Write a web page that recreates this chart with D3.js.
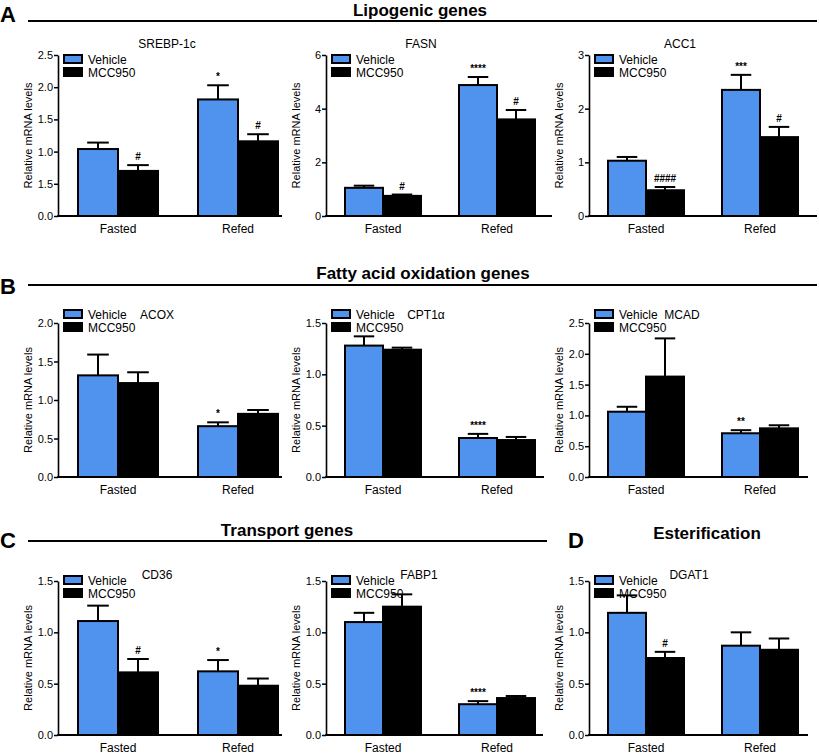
<!DOCTYPE html>
<html><head><meta charset="utf-8">
<script src="https://cdn.jsdelivr.net/npm/d3@7"></script>
<style>
body{margin:0;background:#fff;}
text{font-family:"Liberation Sans",Arial,Helvetica,sans-serif;fill:#000;}
</style></head>
<body><svg id="chart" width="819" height="756"></svg>
<script>
// ---------------- data ----------------
const categories = ["Fasted", "Refed"];
const groups = ["Vehicle", "MCC950"];
const genes = ["SREBP-1c", "FASN", "ACC1", "ACOX", "CPT1\u03b1", "MCAD", "CD36", "FABP1", "DGAT1"];
const vehicleMean = [[1.04, 1.81], [1.05, 4.88], [1.03, 2.35], [1.32, 0.66], [1.28, 0.38], [1.06, 0.71], [1.11, 0.62], [1.10, 0.30], [1.19, 0.87]];
const vehicleSem  = [[0.10, 0.22], [0.08, 0.30], [0.07, 0.28], [0.27, 0.05], [0.09, 0.04], [0.08, 0.05], [0.15, 0.11], [0.09, 0.03], [0.17, 0.13]];
const mccMean     = [[0.70, 1.16], [0.75, 3.60], [0.48, 1.47], [1.22, 0.82], [1.24, 0.36], [1.63, 0.79], [0.61, 0.48], [1.25, 0.36], [0.75, 0.83]];
const mccSem      = [[0.09, 0.11], [0.05, 0.35], [0.06, 0.19], [0.14, 0.05], [0.02, 0.03], [0.62, 0.05], [0.13, 0.07], [0.12, 0.02], [0.06, 0.11]];
const vehicleSig  = [["", "*"], ["", "****"], ["", "***"], ["", "*"], ["", "****"], ["", "**"], ["", "*"], ["", "****"], ["", ""]];
const mccSig      = [["#", "#"], ["#", "#"], ["####", "#"], ["", ""], ["", ""], ["", ""], ["#", ""], ["", ""], ["#", ""]];
const yTickValues = [
  [0, 0.5, 1, 1.5, 2, 2.5], [0, 2, 4, 6], [0, 1, 2, 3],
  [0, 0.5, 1, 1.5, 2], [0, 0.5, 1, 1.5], [0, 0.5, 1, 1.5, 2, 2.5],
  [0, 0.5, 1, 1.5], [0, 0.5, 1, 1.5], [0, 0.5, 1, 1.5]];
const yTickLabels = [
  ["0.0", "1.5", "1.0", "1.5", "2.0", "2.5"], ["0", "2", "4", "6"], ["0", "1", "2", "3"],
  ["0.0", "0.5", "1.0", "1.5", "2.0"], ["0.0", "0.5", "1.0", "1.5"], ["0.0", "0.5", "1.0", "1.5", "2.0", "2.5"],
  ["0.0", "0.5", "1.0", "1.5"], ["0.0", "0.5", "1.0", "1.5"], ["0.0", "0.5", "1.0", "1.5"]];
const sectionLetters = ["A", "B", "C", "D"];
const sectionTitles = ["Lipogenic genes", "Fatty acid oxidation genes", "Transport genes", "Esterification"];
const yAxisTitle = "Relative mRNA levels";

// ---------------- layout ----------------
const BLUE = "#4f93ee";
const colX0 = [58, 326, 589];
const axisEnd = [[282, 552, 817], [282, 544, 808], [282, 543, 808]];
const rowTop = [55, 323, 581];
const rowBottom = [216, 477, 735];
const legendDy = [0, -13, -5];
const titleDy = [-7, -4, -2];
const titleDx = [109, 95, 91, 99, 100, 93, 99, 93, 100];
const sections = [
  {letterX: 0, letterY: 22, lineY: 21, lineX0: 28, lineX1: 817, titleX: 420, titleY: 16},
  {letterX: 0, letterY: 294, lineY: 285, lineX0: 28, lineX1: 817, titleX: 423, titleY: 279},
  {letterX: 0, letterY: 548, lineY: 541, lineX0: 28, lineX1: 547, titleX: 287, titleY: 536},
  {letterX: 568, letterY: 548, lineY: null, titleX: 707, titleY: 539}
];

const svg = d3.select("#chart");

// section headers
sections.forEach((s, i) => {
  svg.append("text").attr("x", s.letterX).attr("y", s.letterY)
    .attr("font-size", 22).attr("font-weight", "bold").text(sectionLetters[i]);
  if (s.lineY !== null) {
    svg.append("line").attr("x1", s.lineX0).attr("x2", s.lineX1)
      .attr("y1", s.lineY).attr("y2", s.lineY).attr("stroke", "#000").attr("stroke-width", 2);
  }
  svg.append("text").attr("x", s.titleX).attr("y", s.titleY).attr("text-anchor", "middle")
    .attr("font-size", 17).attr("font-weight", "bold").text(sectionTitles[i]);
});

genes.forEach((gene, i) => {
  const r = Math.floor(i / 3), c = i % 3;
  const x0 = colX0[c], x1 = axisEnd[r][c];
  const top = rowTop[r], bottom = rowBottom[r];
  const tv = yTickValues[i];
  const y = d3.scaleLinear().domain([0, tv[tv.length - 1]]).range([bottom, top]);
  const start = c === 0 ? 20 : 19, bw = c === 0 ? 80 : 76, step = c === 0 ? 120 : 114;
  const x = d3.scaleBand().domain(categories)
    .range([x0 + start, x0 + start + step + bw]).paddingInner(1 - bw / step).paddingOuter(0);
  const xi = d3.scaleBand().domain(groups).range([0, x.bandwidth()]);
  const g = svg.append("g");

  // bars
  const rows = [];
  categories.forEach((cat, k) => {
    rows.push({cat, grp: "Vehicle", v: vehicleMean[i][k], e: vehicleSem[i][k], s: vehicleSig[i][k]});
    rows.push({cat, grp: "MCC950", v: mccMean[i][k], e: mccSem[i][k], s: mccSig[i][k]});
  });
  rows.forEach(d => {
    const bx = x(d.cat) + xi(d.grp), w = xi.bandwidth(), cx = bx + w / 2;
    const fill = d.grp === "Vehicle" ? BLUE : "#000";
    g.append("line").attr("x1", cx).attr("x2", cx).attr("y1", y(d.v)).attr("y2", y(d.v + d.e))
      .attr("stroke", "#000").attr("stroke-width", 2);
    g.append("line").attr("x1", cx - w * 0.27).attr("x2", cx + w * 0.27)
      .attr("y1", y(d.v + d.e)).attr("y2", y(d.v + d.e)).attr("stroke", "#000").attr("stroke-width", 2);
    g.append("rect").attr("x", bx).attr("y", y(d.v)).attr("width", w).attr("height", y(0) - y(d.v))
      .attr("fill", fill).attr("stroke", "#000").attr("stroke-width", 2);
    if (d.s) {
      g.append("text").attr("x", cx).attr("y", y(d.v + d.e) - 5).attr("text-anchor", "middle")
        .attr("font-size", 10).attr("font-weight", "bold").text(d.s);
    }
  });

  // y axis
  const ya = g.append("g").attr("transform", `translate(${x0},0)`)
    .call(d3.axisLeft(y).tickValues(tv).tickFormat((d, j) => yTickLabels[i][j]).tickSize(4).tickSizeOuter(0).tickPadding(1));
  ya.select(".domain").attr("stroke-width", 1.6);
  ya.selectAll(".tick line").attr("stroke-width", 1.5);
  ya.selectAll("text").attr("font-size", 11).attr("font-family", "Liberation Sans, Arial, sans-serif");

  // x axis
  const xa = g.append("g").attr("transform", `translate(0,${bottom})`)
    .call(d3.axisBottom(x).tickSize(0).tickPadding(6));
  xa.select(".domain").remove();
  xa.selectAll("text").attr("font-size", 12).attr("font-family", "Liberation Sans, Arial, sans-serif").attr("dy", "0.9em");
  g.append("line").attr("x1", x0 - 0.8).attr("x2", x1).attr("y1", bottom).attr("y2", bottom)
    .attr("stroke", "#000").attr("stroke-width", 2);

  // y title
  g.append("text").attr("transform", `translate(${x0 - 26},${(top + bottom) / 2}) rotate(-90)`)
    .attr("text-anchor", "middle").attr("font-size", 11).text(yAxisTitle);

  // panel title
  g.append("text").attr("x", x0 + titleDx[i]).attr("y", top + titleDy[r]).attr("text-anchor", "middle")
    .attr("font-size", 12).text(gene);

  // legend
  const ly = top + legendDy[r];
  groups.forEach((grp, k) => {
    g.append("rect").attr("x", x0 + 6).attr("y", ly + k * 13).attr("width", 18).attr("height", 8)
      .attr("fill", grp === "Vehicle" ? BLUE : "#000").attr("stroke", "#000").attr("stroke-width", 2);
    g.append("text").attr("x", x0 + 30).attr("y", ly + k * 13 + 8.5).attr("font-size", 12).text(grp);
  });
});
</script></body></html>
